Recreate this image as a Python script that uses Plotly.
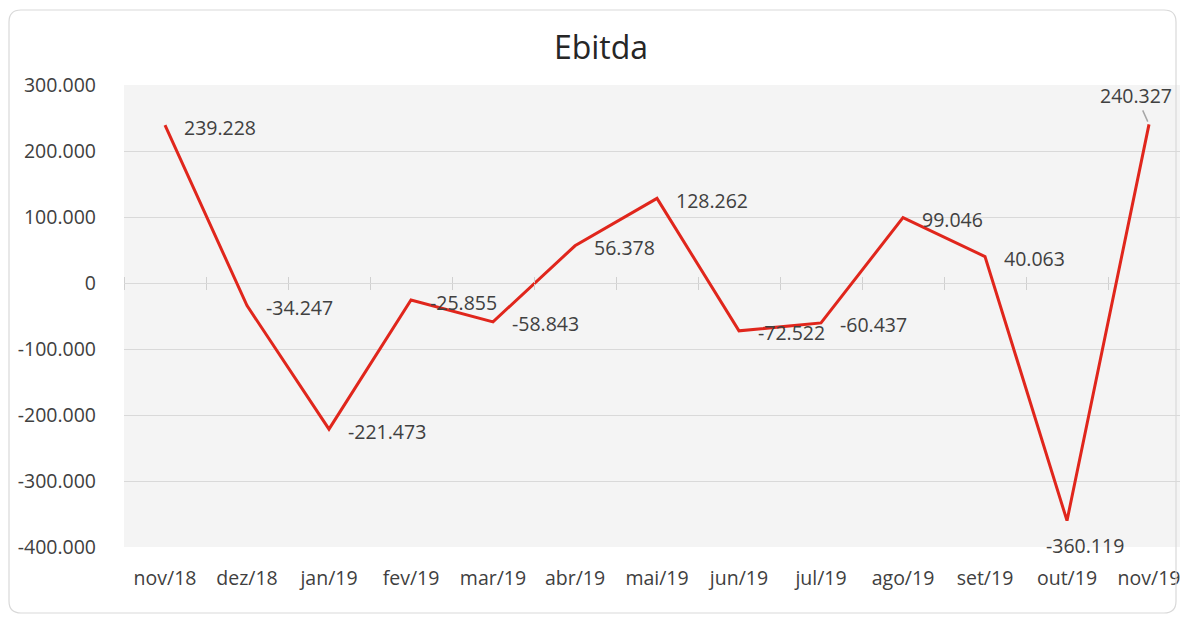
import plotly.graph_objects as go

categories = ["nov/18", "dez/18", "jan/19", "fev/19", "mar/19", "abr/19", "mai/19",
              "jun/19", "jul/19", "ago/19", "set/19", "out/19", "nov/19"]
ebitda = [239228, -34247, -221473, -25855, -58843, 56378, 128262,
          -72522, -60437, 99046, 40063, -360119, 240327]
y_ticks = [300000, 200000, 100000, 0, -100000, -200000, -300000, -400000]

def fmt(v):
    return f"{v:,}".replace(",", ".")

FONT = "Open Sans"
TXT = "#404040"
FS = 19.5

W, H = 1180, 618
ML, MR, MT, MB = 124, 0, 85, 71
PW, PH = W - ML - MR, H - MT - MB

fig = go.Figure()
fig.add_trace(go.Scatter(
    x=list(range(len(categories))), y=ebitda, mode="lines",
    line=dict(color="#E0261C", width=3), hoverinfo="skip", showlegend=False,
))

ann = []
n = len(ebitda)
for i, v in enumerate(ebitda):
    if i == n - 1:
        ann.append(dict(x=i, y=v, xref="x", yref="y", text=fmt(v), showarrow=True,
                        ax=-13, ay=-29, arrowhead=0, arrowwidth=1.5, arrowcolor="#A6A6A6",
                        standoff=3, startstandoff=0,
                        font=dict(family=FONT, size=FS, color=TXT)))
    elif i == n - 2:
        ann.append(dict(x=i, y=v, xref="x", yref="y", text=fmt(v), showarrow=False,
                        xanchor="center", yanchor="middle", xshift=18, yshift=-25,
                        font=dict(family=FONT, size=FS, color=TXT)))
    else:
        ann.append(dict(x=i, y=v, xref="x", yref="y", text=fmt(v), showarrow=False,
                        xanchor="left", yanchor="middle", xshift=17, yshift=-2,
                        font=dict(family=FONT, size=FS, color=TXT)))

def px2x(px):
    return (px - ML) / PW

def py2y(py):
    return (H - MB - py) / PH

# rounded card border
x0, x1, y0, y1 = 9, 1176, 10, 613
r = 12
path = (f"M {px2x(x0 + r)} {py2y(y0)} L {px2x(x1 - r)} {py2y(y0)} "
        f"Q {px2x(x1)} {py2y(y0)} {px2x(x1)} {py2y(y0 + r)} "
        f"L {px2x(x1)} {py2y(y1 - r)} Q {px2x(x1)} {py2y(y1)} {px2x(x1 - r)} {py2y(y1)} "
        f"L {px2x(x0 + r)} {py2y(y1)} Q {px2x(x0)} {py2y(y1)} {px2x(x0)} {py2y(y1 - r)} "
        f"L {px2x(x0)} {py2y(y0 + r)} Q {px2x(x0)} {py2y(y0)} {px2x(x0 + r)} {py2y(y0)} Z")

zero_pos = (0 - y_ticks[-1]) / (y_ticks[0] - y_ticks[-1])
x_range = [-0.5, -0.5 + PW / 82.0]
boundaries = [i - 0.5 for i in range(len(categories) + 1)]

fig.update_layout(
    width=W, height=H,
    margin=dict(l=ML, r=MR, t=MT, b=MB),
    paper_bgcolor="white",
    plot_bgcolor="#F4F4F4",
    title=dict(text="Ebitda", x=601 / W, xanchor="center", y=1 - 48 / H, yanchor="middle",
               yref="container", font=dict(family=FONT, size=32, color="#262626")),
    font=dict(family=FONT, color=TXT),
    xaxis=dict(
        range=x_range, tickmode="array", tickvals=list(range(len(categories))),
        ticktext=categories, showgrid=False, zeroline=False, showline=False,
        ticks="", tickfont=dict(family=FONT, size=FS, color=TXT),
        ticklabelstandoff=17, ticklabeloverflow="allow",
    ),
    xaxis2=dict(
        overlaying="x", anchor="free", position=zero_pos, side="bottom",
        range=x_range, tickmode="array", tickvals=boundaries, showticklabels=False,
        ticks="outside", ticklen=6, tickcolor="#D0D0D0", showgrid=False,
        showline=False, zeroline=False,
    ),
    xaxis3=dict(
        overlaying="x", anchor="free", position=zero_pos, side="top",
        range=x_range, tickmode="array", tickvals=boundaries, showticklabels=False,
        ticks="outside", ticklen=6, tickcolor="#D0D0D0", showgrid=False,
        showline=False, zeroline=False,
    ),
    yaxis=dict(
        range=[y_ticks[-1], y_ticks[0]], tickmode="array", tickvals=y_ticks,
        ticktext=[fmt(v) for v in y_ticks], showgrid=True, gridcolor="#D9D9D9",
        gridwidth=1.3, zeroline=False, showline=False, ticks="",
        tickfont=dict(family=FONT, size=FS, color=TXT), ticklabelstandoff=27,
    ),
    annotations=ann,
    shapes=[dict(type="path", xref="paper", yref="paper", path=path,
                 line=dict(color="#D9D9D9", width=1.2), fillcolor="rgba(0,0,0,0)",
                 layer="above")],
)

# invisible traces that activate the overlay axes used for the zero-line tick marks
fig.add_trace(go.Scatter(x=[None], y=[None], xaxis="x2", showlegend=False, hoverinfo="skip"))
fig.add_trace(go.Scatter(x=[None], y=[None], xaxis="x3", showlegend=False, hoverinfo="skip"))

fig.write_html("out.html")
